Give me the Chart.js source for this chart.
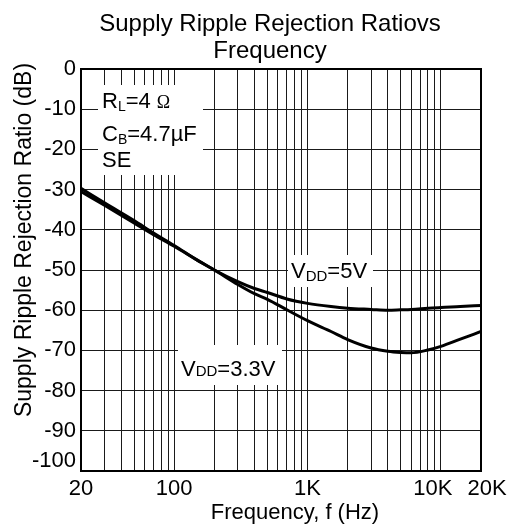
<!DOCTYPE html>
<html lang="en">
<head>
<meta charset="UTF-8">
<title>Supply Ripple Rejection Ratio vs Frequency</title>
<script src="https://cdn.jsdelivr.net/npm/chart.js@4"></script>
<style>
    html, body { margin: 0; padding: 0; background: #fff; }
    .chart { width: 512px; height: 528px; }
</style>
</head>
<body>
<div class="chart">
    <canvas id="myChart" width="512" height="528"></canvas>
</div>
<script>
// frequency points (Hz)
const freqs = [20, 30, 50, 70, 100, 150, 200, 300, 400, 500, 700, 1000, 1500, 2000, 3000, 4000, 5000, 6000, 8000, 10000, 14000, 20000];
// PSRR (dB), VDD = 5V
const vdd5 = [-30.5, -33.9, -38.3, -41.2, -44.1, -47.6, -50.0, -52.9, -54.6, -55.6, -57.2, -58.3, -59.1, -59.5, -59.8, -60.0, -59.9, -59.8, -59.5, -59.3, -59.1, -58.8];
// PSRR (dB), VDD = 3.3V
const vdd33 = [-29.7, -33.3, -37.7, -40.8, -43.9, -47.6, -50.0, -53.6, -55.9, -57.3, -59.9, -62.6, -65.3, -67.3, -69.4, -70.2, -70.5, -70.6, -69.9, -69.0, -67.2, -65.3];

// grid / tick values
const gridFreqs = [20, 30, 40, 50, 60, 70, 80, 90, 100, 200, 300, 400, 500, 600, 700, 800, 900,
                   1000, 2000, 3000, 4000, 5000, 6000, 7000, 8000, 9000, 10000, 20000];
const xTickValues = [20, 100, 1000, 10000, 20000];
const xTickLabels = ['20', '100', '1K', '10K', '20K'];
const yTicks = [0, -10, -20, -30, -40, -50, -60, -70, -80, -90, -100];

const FONT = "'Liberation Sans', Arial, sans-serif";

// draws a run of text pieces (for subscripts) starting at x, on baseline y
function drawRich(ctx, parts, x, y) {
    ctx.textAlign = 'left';
    ctx.textBaseline = 'alphabetic';
    parts.forEach(function (p) {
        ctx.font = (p.size || 22) + 'px ' + (p.family || FONT);
        ctx.fillText(p.t, x, y + (p.dy || 0));
        x += ctx.measureText(p.t).width;
    });
}

const decor = {
    id: 'decor',
    beforeDatasetsDraw(chart) {
        const ctx = chart.ctx;
        const a = chart.chartArea;
        ctx.save();
        ctx.fillStyle = '#fff';
        // label backgrounds that hide the grid
        ctx.fillRect(a.left + 17, a.top + 16, 105, 90);
        ctx.fillRect(a.left + 207, a.top + 186, 85, 32);
        ctx.fillRect(a.left + 97, a.top + 276, 104, 40);
        ctx.restore();
    },
    afterDatasetsDraw(chart) {
        const ctx = chart.ctx;
        const a = chart.chartArea;
        const xs = chart.scales.x, ys = chart.scales.y;
        ctx.save();
        ctx.fillStyle = '#000';
        ctx.strokeStyle = '#000';

        // frame
        ctx.lineWidth = 2;
        ctx.strokeRect(a.left, a.top, a.right - a.left, a.bottom - a.top);

        // title
        ctx.font = '24px ' + FONT;
        ctx.textAlign = 'center';
        ctx.textBaseline = 'alphabetic';
        ctx.fillText('Supply Ripple Rejection Ratiovs', 270, 31);
        ctx.fillText('Frequency', 270, 58);

        // y tick labels
        ctx.font = '22px ' + FONT;
        ctx.textAlign = 'right';
        ctx.textBaseline = 'middle';
        yTicks.forEach(function (v) {
            const y = Math.min(ys.getPixelForValue(v), a.bottom - 10);
            ctx.fillText(String(v), a.left - 5, y);
        });

        // x tick labels
        ctx.textAlign = 'center';
        ctx.textBaseline = 'alphabetic';
        xTickValues.forEach(function (v, i) {
            let x = xs.getPixelForValue(v);
            if (i === xTickValues.length - 1) x += 6;
            if (i === xTickValues.length - 2) x -= 8;
            ctx.fillText(xTickLabels[i], x, a.bottom + 24);
        });

        // axis titles
        ctx.fillText('Frequency, f (Hz)', 295, 519);
        ctx.save();
        ctx.font = '23px ' + FONT;
        ctx.translate(31, 240);
        ctx.rotate(-Math.PI / 2);
        ctx.fillText('Supply Ripple Rejection Ratio (dB)', 0, 0);
        ctx.restore();

        // annotations
        drawRich(ctx, [{t: 'R'}, {t: 'L', size: 14, dy: 3}, {t: '=4 '}, {t: 'Ω', size: 18, family: "'Liberation Serif', serif"}], a.left + 21, a.top + 39);
        drawRich(ctx, [{t: 'C'}, {t: 'B', size: 14, dy: 3}, {t: '=4.7µF'}], a.left + 21, a.top + 72);
        drawRich(ctx, [{t: 'SE'}], a.left + 21, a.top + 98);
        drawRich(ctx, [{t: 'V'}, {t: 'DD', size: 15, dy: 3}, {t: '=5V'}], a.left + 210, a.top + 209);
        drawRich(ctx, [{t: 'V'}, {t: 'DD', size: 15}, {t: '=3.3V'}], a.left + 100, a.top + 307);
        ctx.restore();
    }
};

function points(ys) {
    return freqs.map(function (f, i) { return {x: f, y: ys[i]}; });
}

const data = {
    datasets: [{
        label: 'VDD=5V',
        data: points(vdd5),
        borderColor: '#000',
        borderWidth: 3,
        pointRadius: 0,
        fill: false,
        cubicInterpolationMode: 'monotone'
    },
    {
        label: 'VDD=3.3V',
        data: points(vdd33),
        borderColor: '#000',
        borderWidth: 3,
        pointRadius: 0,
        fill: false,
        cubicInterpolationMode: 'monotone'
    }]
};

const config = {
    type: 'line',
    data: data,
    options: {
        responsive: false,
        animation: false,
        layout: {
            padding: {left: 81, top: 69, right: 31, bottom: 57}
        },
        plugins: {
            legend: {display: false},
            title: {display: false},
            tooltip: {enabled: false}
        },
        scales: {
            x: {
                type: 'logarithmic',
                min: 20,
                max: 20000,
                afterBuildTicks: function (scale) {
                    scale.ticks = gridFreqs.map(function (v) { return {value: v}; });
                },
                ticks: {display: false},
                grid: {color: '#1a1a1a', lineWidth: 1, drawTicks: false},
                border: {display: false}
            },
            y: {
                type: 'linear',
                min: -100,
                max: 0,
                afterBuildTicks: function (scale) {
                    scale.ticks = yTicks.map(function (v) { return {value: v}; });
                },
                ticks: {display: false},
                grid: {color: '#1a1a1a', lineWidth: 1, drawTicks: false},
                border: {display: false}
            }
        }
    },
    plugins: [decor]
};

const myChart = new Chart(document.getElementById('myChart'), config);
</script>
</body>
</html>
